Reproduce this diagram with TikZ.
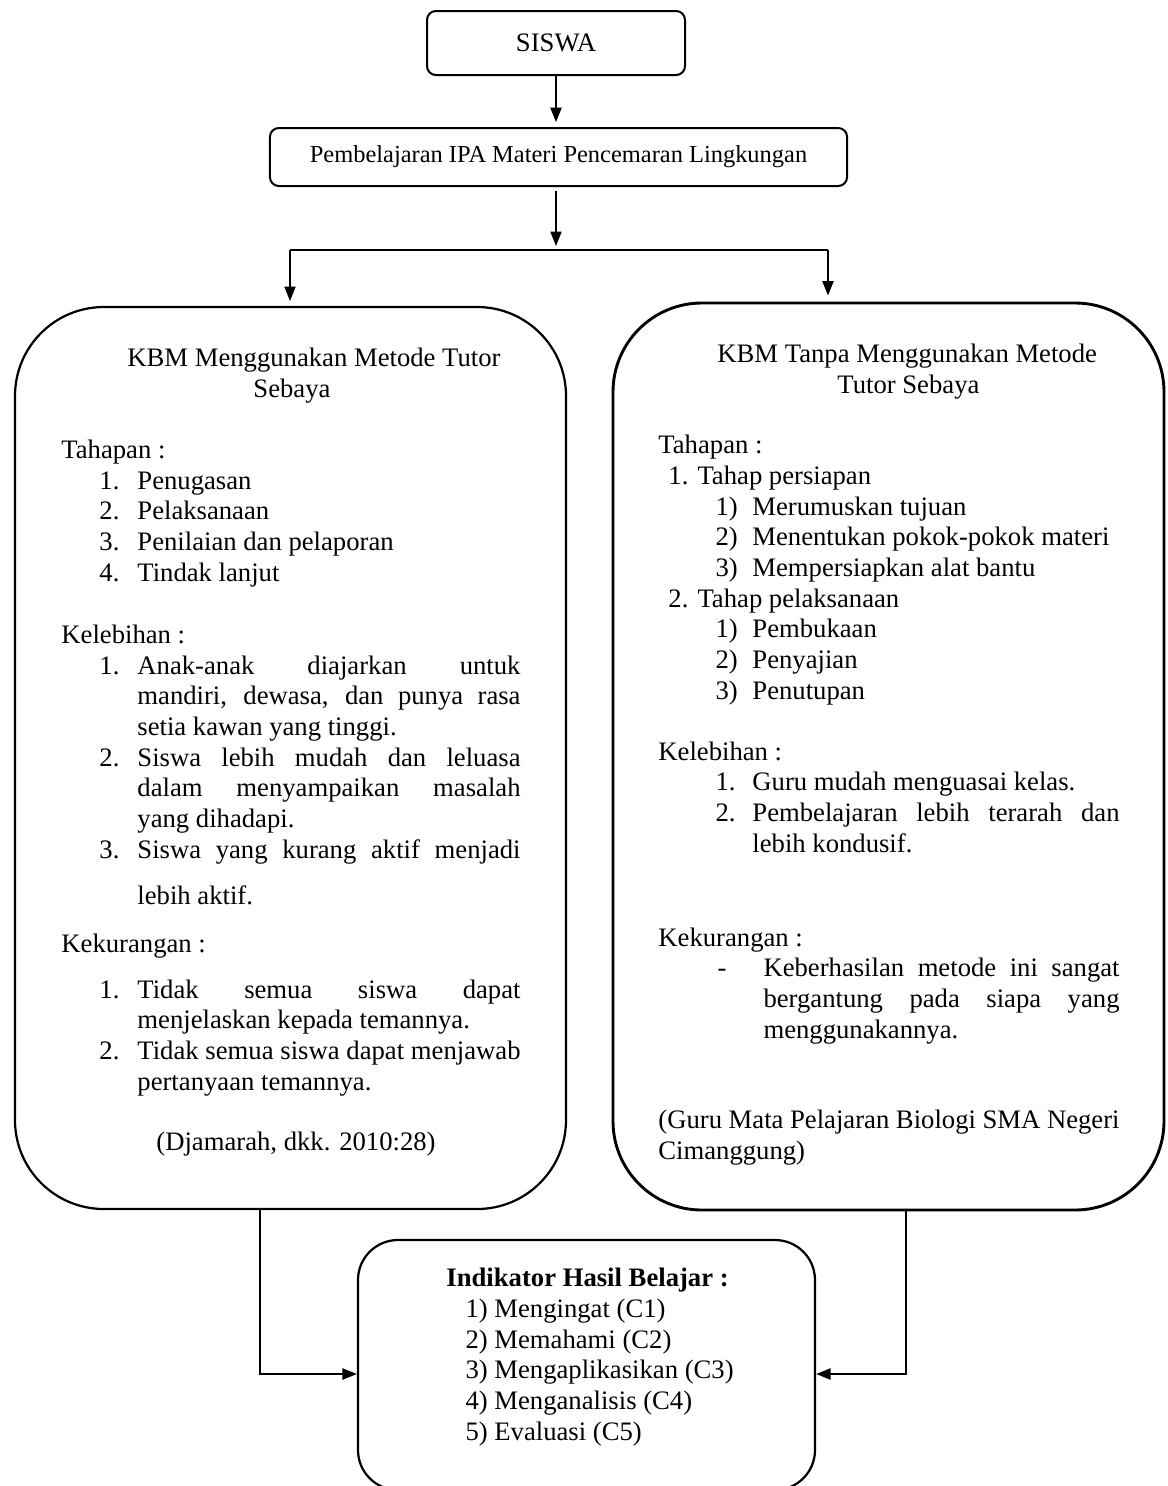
\documentclass[tikz,border=0pt]{standalone}
\usepackage{fontspec}
\setmainfont{Liberation Serif}
\usetikzlibrary{arrows.meta,fit,positioning}
\newcommand{\lnum}[2]{\hspace*{17.1pt}\makebox[17.1pt][l]{#1}#2}
\newcommand{\lcont}[1]{\hspace*{34.2pt}#1}
\newcommand{\ljust}[1]{\makebox[172.4pt][s]{#1}}
\newcommand{\rnum}[2]{\hspace*{4.5pt}\makebox[13.1pt][l]{#1}#2}
\newcommand{\rsub}[2]{\hspace*{25.7pt}\makebox[16.6pt][l]{#1}#2}
\newcommand{\rjust}[1]{\makebox[165.2pt][s]{#1}}

\begin{document}
\begin{tikzpicture}[x=0.45pt,y=-0.45pt]
            \tikzstyle{box}=[draw, line width=0.9pt, rounded corners=4pt, inner sep=0pt, font=\rmfamily\fontsize{12}{13.8}\selectfont]
            \tikzstyle{bigbox}=[draw, line width=1pt, rounded corners=40pt, inner sep=0pt]
            \tikzstyle{txt}=[font=\rmfamily\fontsize{12}{13.8}\selectfont, inner sep=0pt, anchor=base west, align=left]
            \tikzstyle{arr}=[line width=0.8pt, -{Triangle[length=6.5pt,width=5pt]}]
            \tikzstyle{connect}=[line width=0.8pt]
            \useasboundingbox (0,0) rectangle (1168,1486);
            \node[box, minimum width=116.1pt, minimum height=28.8pt] (siswa) at (556,43) {SISWA};
            \node[box, minimum width=259.7pt, minimum height=26.1pt, font=\rmfamily\fontsize{11}{13}\selectfont] (pemb) at (558.5,157) {Pembelajaran IPA Materi Pencemaran Lingkungan};
            \node[bigbox, fit={(15,307) (566,1209)}] (kbm1) {};
            \node[bigbox, line width=1.3pt, fit={(613,303) (1164,1210)}] (kbm2) {};
            \node[bigbox, rounded corners=18pt, fit={(358,1240) (815,1490)}] (ind) {};
            \coordinate (sp) at (556,246);
            \coordinate (bl) at (290,250);
            \coordinate (br) at (828,250);
            \coordinate (jl) at (260,1374);
            \coordinate (jr) at (906,1374);
            \draw[arr, shorten >=2.2pt] (siswa.south) -- (siswa.south |- pemb.north);
            \draw[arr, shorten <=1.8pt] (pemb.south -| sp) -- (sp);
            \draw[connect] (bl) -- (br);
            \draw[arr, shorten >=2.2pt] (bl) -- (bl |- kbm1.north);
            \draw[arr, shorten >=2.7pt] (br) -- (br |- kbm2.north);
            \draw[arr] (kbm1.south -| jl) |- (ind.west |- jl);
            \draw[arr] (kbm2.south -| jr) |- (ind.east |- jr);
            \node[txt] (ltitle) at (127,397) {KBM Menggunakan Metode Tutor\\\hspace*{56.7pt}Sebaya};
            \node[txt] (ltahap) at (61,581) {Tahapan :\\
                \lnum{1.}{Penugasan}\\
                \lnum{2.}{Pelaksanaan}\\
                \lnum{3.}{Penilaian dan pelaporan}\\
                \lnum{4.}{Tindak lanjut}};
            \node[txt] (llebih) at (61,904) {Kelebihan :\\
                \lnum{1.}{\ljust{Anak-anak diajarkan untuk}}\\
                \lcont{\ljust{mandiri, dewasa, dan punya rasa}}\\
                \lcont{setia kawan yang tinggi.}\\
                \lnum{2.}{\ljust{Siswa lebih mudah dan leluasa}}\\
                \lcont{\ljust{dalam menyampaikan masalah}}\\
                \lcont{yang dihadapi.}\\
                \lnum{3.}{\ljust{Siswa yang kurang aktif menjadi}}\\[6.9pt]
                \lcont{lebih aktif.}};
            \node[txt] (lkurang) at (61,1090) {Kekurangan :\\[6.9pt]
                \lnum{1.}{\ljust{Tidak semua siswa dapat}}\\
                \lcont{menjelaskan kepada temannya.}\\
                \lnum{2.}{\ljust{Tidak semua siswa dapat menjawab}}\\
                \lcont{pertanyaan temannya.}};
            \node[txt, anchor=base] (lsrc) at (296,1150) {(Djamarah, dkk. 2010:28)};
            \node[txt] (rtitle) at (717,393) {KBM Tanpa Menggunakan Metode\\\hspace*{54pt}Tutor Sebaya};
            \node[txt] (rtahap) at (658,699) {Tahapan :\\
                \rnum{1.}{Tahap persiapan}\\
                \rsub{1)}{Merumuskan tujuan}\\
                \rsub{2)}{Menentukan pokok-pokok materi}\\
                \rsub{3)}{Mempersiapkan alat bantu}\\
                \rnum{2.}{Tahap pelaksanaan}\\
                \rsub{1)}{Pembukaan}\\
                \rsub{2)}{Penyajian}\\
                \rsub{3)}{Penutupan}};
            \node[txt] (rlebih) at (658,852) {Kelebihan :\\
                \rsub{1.}{Guru mudah menguasai kelas.}\\
                \rsub{2.}{\rjust{Pembelajaran lebih terarah dan}}\\
                \hspace*{42.3pt}lebih kondusif.};
            \node[txt] (rkurang) at (658,1038) {Kekurangan :\\
                \hspace*{26.6pt}\makebox[20.7pt][l]{-}\makebox[160.2pt][s]{Keberhasilan metode ini sangat}\\
                \hspace*{47.3pt}\makebox[160.2pt][s]{bergantung pada siapa yang}\\
                \hspace*{47.3pt}menggunakannya.};
            \node[txt] (rsrc) at (658,1159) {\makebox[207.5pt][s]{(Guru Mata Pelajaran Biologi SMA Negeri}\\
                Cimanggung)};
            \node[txt] (hasil) at (446,1440) {\textbf{Indikator Hasil Belajar :}\\
                \hspace*{8.6pt}1) Mengingat (C1)\\
                \hspace*{8.6pt}2) Memahami (C2)\\
                \hspace*{8.6pt}3) Mengaplikasikan (C3)\\
                \hspace*{8.6pt}4) Menganalisis (C4)\\
                \hspace*{8.6pt}5) Evaluasi (C5)};
        \end{tikzpicture}
\end{document}
